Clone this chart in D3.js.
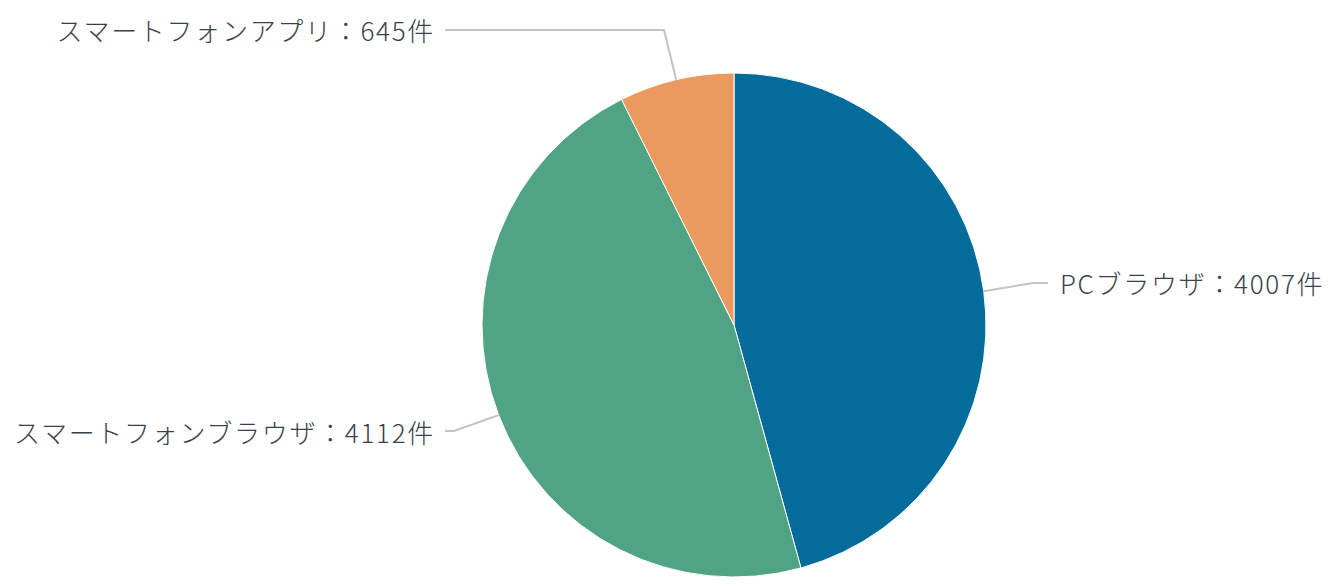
<!DOCTYPE html>
<html><head><meta charset="utf-8">
<script src="https://cdn.jsdelivr.net/npm/d3@7"></script>
<style>html,body{margin:0;padding:0;background:#fff;}svg{display:block;}</style>
</head><body>
<svg id="c" width="1334" height="586"></svg>
<script>
const categories = ["PCブラウザ", "スマートフォンブラウザ", "スマートフォンアプリ"];
const values = [4007, 4112, 645];
const colors = ["#036c9a", "#50a383", "#ea9a5f"];

const W = 1334, H = 586;
const cx = 734, cy = 325, R = 252;
const svg = d3.select("#c");
const g = svg.append("g").attr("transform", `translate(${cx},${cy})`);

const data = categories.map((c, i) => ({name: c, value: values[i], color: colors[i]}));
const pie = d3.pie().value(d => d.value).sort(null);
const arcs = pie(data);
const arc = d3.arc().innerRadius(0).outerRadius(R);

g.selectAll("path.slice").data(arcs).enter().append("path")
  .attr("class", "slice")
  .attr("d", arc)
  .attr("fill", d => d.data.color)
  .attr("stroke", "#fff").attr("stroke-width", 1).attr("stroke-linejoin", "round");

// label layout (relative to center): bend point, end point, text anchor
const layout = [
  {bend: [299, -42], end: [314, -42], tx: 326, ty: -38, anchor: "start"},
  {bend: [-280, 106], end: [-289, 106], tx: -299, ty: 111, anchor: "end"},
  {bend: [-70, -295], end: [-289, -295], tx: -299, ty: -291, anchor: "end"}
];

arcs.forEach((a, i) => {
  const mid = (a.startAngle + a.endAngle) / 2;
  const sx = R * Math.sin(mid), sy = -R * Math.cos(mid);
  const L = layout[i];
  g.append("path")
    .attr("d", d3.line()([[sx, sy], L.bend, L.end]))
    .attr("fill", "none").attr("stroke", "#c3c3c3").attr("stroke-width", 2);
  g.append("text")
    .attr("x", L.tx).attr("y", L.ty)
    .attr("text-anchor", L.anchor)
    .attr("dominant-baseline", "middle")
    .attr("font-family", "'Noto Sans CJK JP', 'Noto Sans', sans-serif")
    .attr("font-size", 26)
    .attr("font-weight", 300)
    .attr("letter-spacing", 1.7)
    .attr("fill", "#3a404b")
    .text(`${a.data.name}：${d3.format("d")(a.data.value)}件`);
});
</script>
</body></html>
